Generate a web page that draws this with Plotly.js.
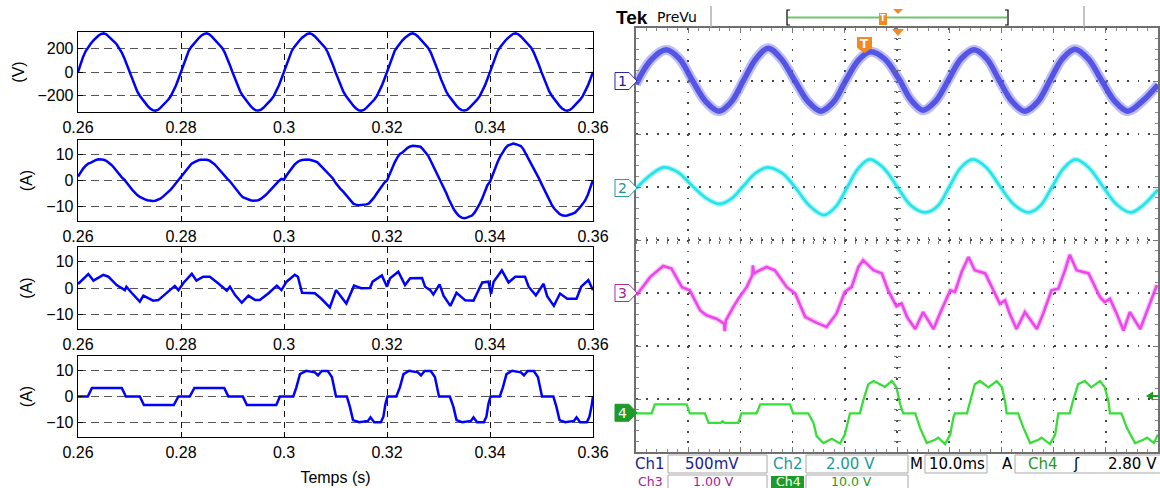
<!DOCTYPE html>
<html><head><meta charset="utf-8">
<script src="https://cdn.plot.ly/plotly-3.0.1.min.js"></script>
<style>html,body{margin:0;padding:0;background:#fff}#chart{width:1160px;height:488px}</style>
</head><body><div id="chart"></div>
<script>
// ---------- simulation (left) ----------
const T_START = 0.26, T_STEP = 0.0005;   // sampling of the two smooth traces
const VOLTAGE = [
 0,70,130,178,212,242,268,290,310,323, 328,320,302,280,258,236,206,166,116,60,
 0,-62,-118,-165,-202,-232,-262,-288,-310,-324, -329,-322,-305,-284,-260,-236,-206,-166,-117,-60,
 2,72,132,180,214,243,269,291,311,324, 329,321,301,279,257,235,205,165,115,58,
 -2,-63,-119,-166,-203,-233,-263,-289,-311,-325, -328,-321,-304,-283,-259,-235,-205,-164,-115,-58,
 1,71,131,179,213,243,268,291,310,324, 328,321,302,280,257,235,206,166,116,59,
 -1,-62,-118,-165,-202,-232,-262,-289,-310,-325, -329,-322,-305,-284,-259,-236,-206,-165,-116,-59,
 1,72,131,180,213,244,269,291,311,323, 329,320,302,279,258,235,205,165,115,59,
 -1,-63,-119,-166,-203,-233,-262,-288,-311,-324, -328,-322,-304,-283,-260,-235,-205,-166,-116,-59,
 1,71,130,179,213,243,268,290,310,324, 328,321,302,280,258,236,206,165,115,59,
 -1,-62,-118,-165,-202,-233,-262,-288,-310,-324, -329,-322,-305,-284,-259,-235,-205,-165,-116,-59, 0
];
const CURRENT_GRID = [
 1.5,3.2,4.6,5.7,6.5,6.9,7.5,7.9,8.2,8.2, 8.0,7.6,6.9,6.0,4.9,3.6,2.3,1.2,0.3,-0.8,
 -2.2,-3.5,-4.7,-5.6,-6.3,-6.9,-7.3,-7.6,-7.8,-7.9, -7.8,-7.5,-7.0,-6.2,-5.4,-4.5,-3.5,-2.3,-1.0,0.0,
 1.3,2.8,4.2,5.4,6.4,7.0,7.6,7.9,8.0,8.0, 8.0,7.7,7.1,6.3,5.2,4.0,2.8,1.6,0.6,-0.3,
 -1.7,-3.1,-4.3,-5.4,-6.4,-6.9,-7.3,-7.6,-7.8,-7.8, -7.6,-7.1,-6.4,-5.5,-4.5,-3.4,-2.1,-1.1,-0.2,0.6,
 0.3,2.0,3.5,4.8,6.0,6.9,7.6,7.9,8.1,8.1, 8.0,7.8,7.4,7.0,6.0,5.0,4.0,3.0,2.0,0.8,
 -0.9,-2.2,-3.3,-4.3,-5.5,-6.9,-8.0,-9.0,-9.3,-9.5, -9.4,-9.3,-9.2,-8.8,-7.8,-6.5,-5.0,-3.5,-2.0,-0.8,
 0.0,2.6,5.0,7.0,8.8,10.2,10.8,11.8,12.6,13.1, 13.4,13.3,13.2,13.0,12.0,10.8,9.5,7.5,5.5,3.2,
 1.5,-0.5,-2.5,-4.8,-7.2,-9.3,-11.2,-12.6,-13.7,-14.3, -14.5,-14.3,-13.9,-13.5,-12.4,-10.8,-9.0,-6.8,-4.3,-1.8,
 -0.5,2.2,4.8,7.2,9.3,11.2,12.5,13.5,14.0,14.2, 14.0,13.6,13.3,12.0,10.2,8.2,6.2,4.4,2.6,0.8,
 -1.3,-3.4,-5.6,-7.6,-9.4,-10.9,-12.0,-12.9,-13.4,-13.6, -13.5,-13.0,-12.8,-12.4,-11.5,-10.3,-9.0,-7.6,-5.5,-3.0, 0.2
];
const T_FILTER = [0.2600,0.2620,0.2630,0.2649,0.2659,0.2675,0.2691,0.2694,0.2704,0.2720,0.2727,0.2733,0.2746,0.2756,0.2772,0.2788,0.2795,
 0.2805,0.2821,0.2830,0.2843,0.2856,0.2872,0.2889,0.2895,0.2905,0.2918,0.2931,0.2944,0.2953,0.2970,0.2986,0.2995,
 0.3005,0.3021,0.3027,0.3035,0.3060,0.3072,0.3089,0.3101,0.3108,0.3121,0.3136,0.3150,0.3167,0.3172,0.3190,0.3200,
 0.3206,0.3222,0.3235,0.3245,0.3268,0.3274,0.3284,0.3290,0.3302,0.3310,0.3323,0.3335,0.3352,0.3368,0.3385,0.3397,
 0.3402,0.3407,0.3423,0.3436,0.3449,0.3468,0.3475,0.3489,0.3504,0.3511,0.3524,0.3536,0.3550,0.3568,0.3577,0.3591,0.3600];
const I_FILTER = [1.5,5.3,2.8,5.0,4.3,1.1,-0.8,0.5,-1.8,-5.2,-2.9,-3.6,-4.8,-4.6,-2.0,0.8,-0.8,
 2.0,5.4,2.8,4.3,4.3,1.8,-1.0,0.5,-2.7,-5.6,-2.9,-4.6,-4.6,-2.0,0.9,-0.8,
 2.4,5.0,4.3,-1.8,-2.0,-4.0,-7.4,-0.8,-2.7,-5.9,0.9,-0.1,0.0,2.4,4.8,0.5,
 3.7,6.2,1.1,3.7,3.8,0.5,-0.8,-2.5,1.4,-3.0,-6.8,-1.8,-4.7,-4.8,2.1,2.4,
 -2.3,2.4,6.7,2.1,4.3,4.3,0.5,-2.8,1.6,-3.1,-6.8,-2.1,-4.1,-4.1,0.5,3.0,-0.8];
const T_LOAD = [0.2600,0.2619,0.2627,0.2685,0.2693,0.2720,0.2728,0.2786,0.2795,
 0.2817,0.2826,0.2884,0.2892,0.2920,0.2928,0.2985,0.2992,
 0.3018,0.3024,0.3031,0.3043,0.3060,0.3066,0.3073,0.3085,0.3093,0.3101,0.3122,0.3128,0.3134,0.3146,0.3163,0.3168,0.3175,0.3188,0.3193,0.3197,0.3201,
 0.3218,0.3225,0.3232,0.3243,0.3260,0.3266,0.3273,0.3285,0.3293,0.3301,0.3322,0.3329,0.3335,0.3346,0.3363,0.3368,0.3375,0.3388,0.3393,0.3397,0.3401,
 0.3419,0.3425,0.3432,0.3443,0.3460,0.3466,0.3473,0.3485,0.3493,0.3501,0.3523,0.3529,0.3535,0.3546,0.3563,0.3568,0.3575,0.3588,0.3593,0.3597,0.3600];
const I_LOAD = [0,0,3.3,3.3,0,0,-3.3,-3.3,0,
 0,3.3,3.3,0,0,-3.3,-3.3,0,
 0,3.5,8.6,9.9,9.3,8.1,9.8,9.8,7.5,0,0,-4.0,-9.1,-9.9,-9.4,-8.0,-9.9,-9.9,-7.8,-2.8,0,
 0,3.5,8.6,9.9,9.3,8.1,9.8,9.8,7.5,0,0,-4.0,-9.1,-9.9,-9.4,-8.0,-9.9,-9.9,-7.8,-2.8,0,
 0,3.5,8.6,9.9,9.3,8.1,9.8,9.8,7.5,0,0,-4.0,-9.1,-9.9,-9.4,-8.0,-9.9,-9.9,-7.8,-4.0,0];
const XTICKS = [0.26,0.28,0.30,0.32,0.34,0.36];
const XTICK_LABELS = ['0.26','0.28','0.3','0.32','0.34','0.36'];
const Y1_TICKS = [-200,0,200];
const YA_TICKS = [-10,0,10];
const Y_TITLES = ['(V)','(A)','(A)','(A)'];
const X_TITLE = 'Temps (s)';

// ---------- oscilloscope (right), in screen divisions ----------
const CH1_X = [0,0.29,0.58,0.83,1.08,1.33,1.59,1.82,2.06,2.30,2.53,2.78,3.04,3.29,3.54,3.78,4.02,4.26,4.49,4.76,5.03,5.27,5.50,5.74,5.98,6.23,6.48,6.72,6.96,7.20,7.45,7.69,7.93,8.17,8.41,8.66,8.92,9.17,9.42,9.70,10];
const CH1_Y = [2.94,3.40,3.59,3.42,3.01,2.62,2.43,2.60,3.01,3.42,3.62,3.42,3.01,2.62,2.43,2.60,3.01,3.39,3.55,3.42,3.05,2.64,2.45,2.62,3.01,3.42,3.59,3.42,3.01,2.62,2.43,2.60,3.01,3.42,3.60,3.42,3.01,2.62,2.43,2.62,2.93];
const CH2_X = [0,0.27,0.53,0.80,1.07,1.33,1.60,1.83,2.06,2.29,2.52,2.80,3.06,3.33,3.60,3.82,4.04,4.26,4.48,4.75,5.02,5.28,5.55,5.78,6.00,6.22,6.45,6.72,6.98,7.25,7.52,7.74,7.97,8.20,8.42,8.68,8.95,9.22,9.48,9.72,10];
const CH2_Y = [0.97,1.22,1.37,1.28,1.03,0.80,0.68,0.78,1.02,1.26,1.37,1.26,0.98,0.64,0.47,0.62,0.98,1.35,1.52,1.35,0.98,0.64,0.52,0.64,1.00,1.36,1.52,1.36,1.00,0.66,0.52,0.64,1.00,1.36,1.52,1.36,1.00,0.66,0.52,0.66,0.95];
const CH3_X = [0.01,0.27,0.52,0.68,0.88,1.03,1.23,1.35,1.55,1.69,1.70,1.72,1.86,1.96,2.12,2.23,2.24,2.26,2.31,2.50,2.66,2.89,3.05,3.24,3.43,3.65,3.84,4.00,4.13,4.26,4.35,4.55,4.71,4.83,4.99,5.09,5.19,5.35,5.50,5.70,5.82,6.02,6.11,6.24,6.37,6.49,6.69,6.88,6.97,7.07,7.16,7.29,7.45,7.68,7.80,7.96,8.09,8.22,8.31,8.44,8.67,8.89,8.98,9.08,9.21,9.34,9.46,9.66,9.79,9.98];
const CH3_Y = [-1.04,-0.70,-0.49,-0.54,-0.89,-0.95,-1.33,-1.42,-1.49,-1.58,-1.72,-1.52,-1.27,-1.11,-0.89,-0.66,-0.48,-0.64,-0.60,-0.51,-0.57,-0.89,-1.01,-1.45,-1.55,-1.64,-1.39,-0.98,-0.89,-0.51,-0.38,-0.57,-0.63,-0.95,-1.25,-1.20,-1.45,-1.68,-1.36,-1.68,-1.39,-0.95,-0.98,-0.60,-0.32,-0.57,-0.63,-1.01,-1.20,-1.14,-1.39,-1.68,-1.36,-1.68,-1.39,-0.95,-0.92,-0.57,-0.28,-0.57,-0.63,-1.08,-1.17,-1.11,-1.39,-1.71,-1.36,-1.68,-1.33,-0.85];
const CH4_X = [0,0.30,0.36,0.97,1.03,1.32,1.39,1.62,1.66,1.70,1.96,2.02,2.31,2.38,2.95,3.01,3.30,3.40,3.46,3.59,3.75,3.91,4.00,4.07,4.10,4.29,4.35,4.45,4.55,4.77,4.90,4.99,5.06,5.12,5.35,5.44,5.57,5.73,5.79,5.92,6.02,6.08,6.11,6.34,6.40,6.49,6.59,6.75,6.91,7.01,7.07,7.10,7.32,7.42,7.55,7.71,7.77,7.93,8.03,8.09,8.31,8.37,8.47,8.60,8.72,8.89,8.98,9.05,9.08,9.30,9.40,9.56,9.72,9.79,9.92,10];
const CH4_Y = [-3.27,-3.27,-3.10,-3.10,-3.27,-3.27,-3.45,-3.45,-3.42,-3.45,-3.45,-3.27,-3.27,-3.10,-3.10,-3.27,-3.27,-3.45,-3.70,-3.83,-3.75,-3.84,-3.67,-3.35,-3.27,-3.27,-3.04,-2.72,-2.66,-2.77,-2.66,-2.78,-3.10,-3.27,-3.27,-3.54,-3.83,-3.77,-3.73,-3.85,-3.67,-3.35,-3.27,-3.27,-3.04,-2.72,-2.66,-2.78,-2.66,-2.78,-3.04,-3.27,-3.27,-3.54,-3.83,-3.77,-3.73,-3.85,-3.67,-3.27,-3.27,-3.04,-2.72,-2.66,-2.78,-2.66,-2.78,-3.04,-3.27,-3.27,-3.54,-3.83,-3.77,-3.73,-3.83,-3.67];
const READ_ROW1 = [['Ch1','#1c1c96'],['500mV','#1c1c96'],['Ch2','#1c9a9a'],['2.00 V','#1c9a9a'],['M','#000'],['10.0ms','#000'],['A','#000'],['Ch4','#1e9a1e'],['\u0283','#000'],['2.80 V','#000']];
const READ_ROW2 = [['Ch3','#a020a0'],['1.00 V','#a020a0'],['Ch4','#ffffff'],['10.0 V','#1e9a1e']];
const CH_MARKERS = [['1',3.0,'#2828a0','#ffffff','#2020a0'],['2',0.98,'#1f9a9a','#ffffff','#1a9494'],['3',-1.0,'#a030a0','#ffffff','#a020a0'],['4',-3.26,'#1e9a2a','#1e9a2a','#ffffff']];

// ---------- layout helpers ----------
const W = 1160, H = 488;
const PX = x => x / W, PY = y => 1 - y / H;
const tGrid = VOLTAGE.map((_, i) => +(T_START + i * T_STEP).toFixed(4));
const FONT = 'Liberation Sans, Arial, sans-serif';
const SFONT = 'DejaVu Sans, sans-serif';

const leftRows = [[32,112],[140,221],[247,329],[356,437]];
const layout = {
  width: W, height: H, margin: {l:0, r:0, t:0, b:0},
  paper_bgcolor: '#fff', plot_bgcolor: '#fff', showlegend: false,
  font: {family: FONT, size: 16, color: '#000'},
  shapes: [], annotations: []
};
leftRows.forEach((r, i) => {
  const n = i === 0 ? '' : String(i + 1);
  layout['xaxis' + n] = {
    domain: [PX(78), PX(593)], anchor: 'y' + n, range: [0.26, 0.36],
    tickvals: XTICKS, ticktext: XTICK_LABELS, ticks: 'inside', ticklen: 5, tickcolor: '#000',
    showline: true, mirror: 'ticks', linecolor: '#000', linewidth: 1.3,
    showgrid: true, gridcolor: '#111', griddash: '6px,5px', gridwidth: 1,
    zeroline: false, tickfont: {family: FONT, size: 16, color: '#000'}, fixedrange: true,
    title: i === 3 ? {text: X_TITLE, font: {family: FONT, size: 16}, standoff: 12} : undefined
  };
  layout['yaxis' + n] = {
    domain: [PY(r[1]), PY(r[0])], anchor: 'x' + n,
    range: i === 0 ? [-340, 340] : [-15.6, 15.6],
    tickvals: i === 0 ? Y1_TICKS : YA_TICKS, ticks: 'inside', ticklen: 5, tickcolor: '#000',
    showline: true, mirror: 'ticks', linecolor: '#000', linewidth: 1.3,
    showgrid: true, gridcolor: '#555', griddash: '8px,5px', gridwidth: 1,
    zeroline: false, tickfont: {family: FONT, size: 16, color: '#000'}, fixedrange: true,
    title: {text: Y_TITLES[i], font: {family: FONT, size: 16}, standoff: 9}
  };
});
// scope screen
const SX0 = 636, SX1 = 1158, SY0 = 28, SY1 = 452;
layout.xaxis5 = {domain: [PX(SX0), PX(SX1)], anchor: 'y5', range: [0, 10], dtick: 1, tick0: 0,
  showticklabels: false, ticks: 'inside', ticklen: 5, tickcolor: '#777',
  minor: {dtick: 0.2, ticks: 'inside', ticklen: 3, tickcolor: '#888', showgrid: false},
  showline: true, mirror: 'ticks', linecolor: '#707070', linewidth: 2,
  showgrid: true, gridcolor: '#444', griddash: '1.8px,8.8px', gridwidth: 1.6, zeroline: false, fixedrange: true};
layout.yaxis5 = {domain: [PY(SY1), PY(SY0)], anchor: 'x5', range: [-4, 4], dtick: 1, tick0: 0,
  showticklabels: false, ticks: 'inside', ticklen: 5, tickcolor: '#777',
  minor: {dtick: 0.2, ticks: 'inside', ticklen: 3, tickcolor: '#888', showgrid: false},
  showline: true, mirror: 'ticks', linecolor: '#707070', linewidth: 2,
  showgrid: true, gridcolor: '#444', griddash: '1.8px,8.65px', gridwidth: 1.6, zeroline: false, fixedrange: true};
const cx = {overlaying: 'x5', anchor: 'free', position: PY(240), range: [0, 10], dtick: 0.2, tick0: 0,
  showticklabels: false, showgrid: false, showline: false, zeroline: false, ticklen: 3, tickcolor: '#777', fixedrange: true};
const cy = {overlaying: 'y5', anchor: 'free', position: PX(897), range: [-4, 4], dtick: 0.2, tick0: 0,
  showticklabels: false, showgrid: false, showline: false, zeroline: false, ticklen: 3, tickcolor: '#777', fixedrange: true};
layout.xaxis6 = Object.assign({}, cx, {ticks: 'outside'});
layout.xaxis7 = Object.assign({}, cx, {ticks: 'inside'});
layout.yaxis6 = Object.assign({}, cy, {ticks: 'outside'});
layout.yaxis7 = Object.assign({}, cy, {ticks: 'inside'});

// ---------- traces ----------
const blue = {color: '#0000ff', width: 2.5};
const data = [
  {x: tGrid, y: VOLTAGE, xaxis: 'x', yaxis: 'y', mode: 'lines', line: blue},
  {x: tGrid, y: CURRENT_GRID, xaxis: 'x2', yaxis: 'y2', mode: 'lines', line: blue},
  {x: T_FILTER, y: I_FILTER, xaxis: 'x3', yaxis: 'y3', mode: 'lines', line: blue},
  {x: T_LOAD, y: I_LOAD, xaxis: 'x4', yaxis: 'y4', mode: 'lines', line: blue},
  {x: CH1_X, y: CH1_Y, xaxis: 'x5', yaxis: 'y5', mode: 'lines', line: {color: 'rgba(125,125,240,0.5)', width: 10, shape: 'spline'}},
  {x: CH1_X, y: CH1_Y, xaxis: 'x5', yaxis: 'y5', mode: 'lines', line: {color: 'rgba(72,72,226,0.9)', width: 5.5, shape: 'spline'}},
  {x: CH2_X, y: CH2_Y, xaxis: 'x5', yaxis: 'y5', mode: 'lines', line: {color: 'rgba(80,235,240,0.45)', width: 5.5, shape: 'spline'}},
  {x: CH2_X, y: CH2_Y, xaxis: 'x5', yaxis: 'y5', mode: 'lines', line: {color: 'rgb(40,228,232)', width: 2.8, shape: 'spline'}},
  {x: CH3_X, y: CH3_Y, xaxis: 'x5', yaxis: 'y5', mode: 'lines', line: {color: 'rgba(240,110,240,0.4)', width: 5}},
  {x: CH3_X, y: CH3_Y, xaxis: 'x5', yaxis: 'y5', mode: 'lines', line: {color: 'rgb(236,70,236)', width: 2.6}},
  {x: CH4_X, y: CH4_Y, xaxis: 'x5', yaxis: 'y5', mode: 'lines', line: {color: 'rgb(55,222,55)', width: 2.3}},
  {x: [], y: [], xaxis: 'x6', yaxis: 'y5', mode: 'lines'},
  {x: [], y: [], xaxis: 'x7', yaxis: 'y5', mode: 'lines'},
  {x: [], y: [], xaxis: 'x5', yaxis: 'y6', mode: 'lines'},
  {x: [], y: [], xaxis: 'x5', yaxis: 'y7', mode: 'lines'}
];
data.forEach(d => { d.hoverinfo = 'skip'; d.showlegend = false; });

// ---------- scope decorations ----------
const path = pts => pts.map((p, i) => (i ? 'L' : 'M') + PX(p[0]).toFixed(5) + ',' + PY(p[1]).toFixed(5)).join(' ') + ' Z';
const openPath = pts => pts.map((p, i) => (i ? 'L' : 'M') + PX(p[0]).toFixed(5) + ',' + PY(p[1]).toFixed(5)).join(' ');
const S = layout.shapes, A = layout.annotations;
const ann = (text, x, y, opt) => A.push(Object.assign({text, x: PX(x), y: PY(y), xref: 'paper', yref: 'paper',
  xanchor: 'center', yanchor: 'middle', showarrow: false, font: {family: SFONT, size: 14, color: '#000'}}, opt || {}));
// header
ann('<b>Tek</b>', 632, 17, {font: {family: 'Liberation Sans, Arial, sans-serif', size: 19, color: '#000'}});
ann('PreVu', 677, 17, {font: {family: SFONT, size: 14, color: '#000'}});
S.push({type: 'line', xref: 'paper', yref: 'paper', x0: PX(711), x1: PX(711), y0: PY(6), y1: PY(27), line: {color: '#b0b0b0', width: 1.5}});
S.push({type: 'line', xref: 'paper', yref: 'paper', x0: PX(1084), x1: PX(1084), y0: PY(6), y1: PY(27), line: {color: '#b0b0b0', width: 1.5}});
S.push({type: 'line', xref: 'paper', yref: 'paper', x0: PX(788), x1: PX(1007), y0: PY(17.5), y1: PY(17.5), line: {color: '#6cc46c', width: 2}});
S.push({type: 'path', xref: 'paper', yref: 'paper', path: openPath([[790,10],[787,10],[787,25],[790,25]]), line: {color: '#000', width: 1.2}});
S.push({type: 'path', xref: 'paper', yref: 'paper', path: openPath([[1005,10],[1008,10],[1008,25],[1005,25]]), line: {color: '#000', width: 1.2}});
S.push({type: 'rect', xref: 'paper', yref: 'paper', x0: PX(879), x1: PX(887), y0: PY(25), y1: PY(13), fillcolor: '#f28a22', line: {width: 0}});
ann('<b>T</b>', 883, 19, {font: {family: SFONT, size: 8, color: '#fff'}});
S.push({type: 'path', xref: 'paper', yref: 'paper', path: path([[893,9],[903,9],[898,14]]), fillcolor: '#f28a22', line: {width: 0}});
S.push({type: 'path', xref: 'paper', yref: 'paper', path: path([[892,29],[904,29],[898,36]]), fillcolor: '#f28a22', line: {width: 0}});
S.push({type: 'path', xref: 'paper', yref: 'paper', path: path([[857,37],[872,37],[872,48],[864.5,53],[857,48]]), fillcolor: '#f28a22', line: {width: 0}});
ann('<b>T</b>', 864.5, 44, {font: {family: SFONT, size: 12, color: '#fff'}});
// channel markers
CH_MARKERS.forEach(m => {
  const yc = 240 - m[1] * 53;
  S.push({type: 'path', xref: 'paper', yref: 'paper', path: path([[615,yc-8.5],[629,yc-8.5],[637,yc],[629,yc+8.5],[615,yc+8.5]]), fillcolor: m[3], line: {color: m[2], width: 1}});
  ann(m[0], 622, yc, {font: {family: SFONT, size: 14, color: m[4]}});
});
// trigger level arrow
S.push({type: 'path', xref: 'paper', yref: 'paper', path: path([[1146,396],[1153,391.5],[1153,400.5]]), fillcolor: '#1e9a1e', line: {width: 0}});
S.push({type: 'line', xref: 'paper', yref: 'paper', x0: PX(1152), x1: PX(1159), y0: PY(396), y1: PY(396), line: {color: '#1e9a1e', width: 2}});
// readouts
[[668,767,455,473],[806,908,455,473],[925,987,455,473],[1015,1162,455,473],[668,767,475,494],[806,908,475,494]].forEach(b =>
  S.push({type: 'rect', xref: 'paper', yref: 'paper', x0: PX(b[0]), x1: PX(b[1]), y0: PY(b[3]), y1: PY(b[2]), line: {color: '#a8a8a8', width: 1}}));
S.push({type: 'rect', xref: 'paper', yref: 'paper', x0: PX(771), x1: PX(804), y0: PY(492), y1: PY(476), fillcolor: '#1e9a2a', line: {width: 0}});
const ROW1_X = [650,712,788,850,916,957,1007,1043,1076,1132];
const ROW2_X = [650,713,788,851];
READ_ROW1.forEach((r, i) => ann(r[0], ROW1_X[i], 464, {font: {family: SFONT, size: 15, color: r[1]}}));
READ_ROW2.forEach((r, i) => ann(r[0], ROW2_X[i], 481, {font: {family: SFONT, size: 12.5, color: r[1]}, borderpad: 0}));

Plotly.newPlot('chart', data, layout, {staticPlot: true, displayModeBar: false});
</script></body></html>
